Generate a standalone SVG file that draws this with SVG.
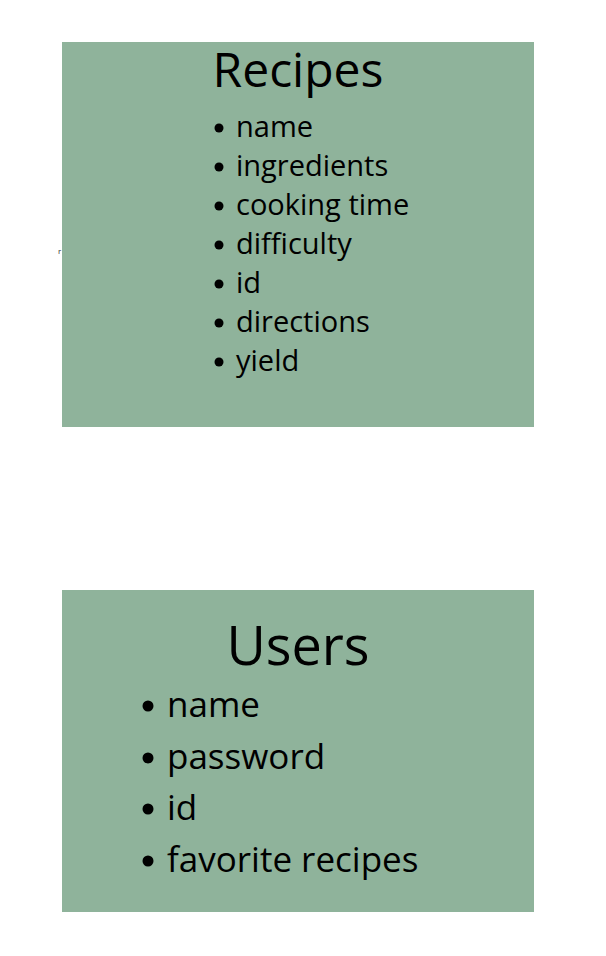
<svg xmlns="http://www.w3.org/2000/svg" width="606" height="956" viewBox="0 0 606 956">
<style>
.box{fill:#8fb39b}
.t{font-family:"Open Sans","Noto Sans",sans-serif;fill:#000}
.title{text-anchor:middle}
.r{font-size:29px}
.u{font-size:35px}
</style>
<rect x="0" y="0" width="606" height="956" fill="#ffffff"/>
<g id="recipes">
<rect class="box" x="62" y="42" width="472" height="385"/>
<text class="t title" x="298" y="87" font-size="48">Recipes</text>
<g fill="#000">
<circle cx="219" cy="128" r="4.5"/><circle cx="219" cy="167" r="4.5"/><circle cx="219" cy="206" r="4.5"/><circle cx="219" cy="245" r="4.5"/><circle cx="219" cy="284" r="4.5"/><circle cx="219" cy="323" r="4.5"/><circle cx="219" cy="362" r="4.5"/>
</g>
<text class="t r" x="236" y="137">name</text>
<text class="t r" x="236" y="176">ingredients</text>
<text class="t r" x="236" y="215">cooking time</text>
<text class="t r" x="236" y="254">difficulty</text>
<text class="t r" x="236" y="293">id</text>
<text class="t r" x="236" y="332">directions</text>
<text class="t r" x="236" y="371">yield</text>
</g>
<text x="58" y="254" font-family="Open Sans, sans-serif" font-size="8" fill="#333">r</text>
<g id="users">
<rect class="box" x="62" y="590" width="472" height="322"/>
<text class="t title" x="298" y="665" font-size="54">Users</text>
<g fill="#000">
<circle cx="148" cy="706" r="5.5"/><circle cx="148" cy="758" r="5.5"/><circle cx="148" cy="809" r="5.5"/><circle cx="148" cy="861" r="5.5"/>
</g>
<text class="t u" x="167" y="717">name</text>
<text class="t u" x="167" y="769">password</text>
<text class="t u" x="167" y="820">id</text>
<text class="t u" x="167" y="872">favorite recipes</text>
</g>
<g id="connectors"></g>
</svg>
